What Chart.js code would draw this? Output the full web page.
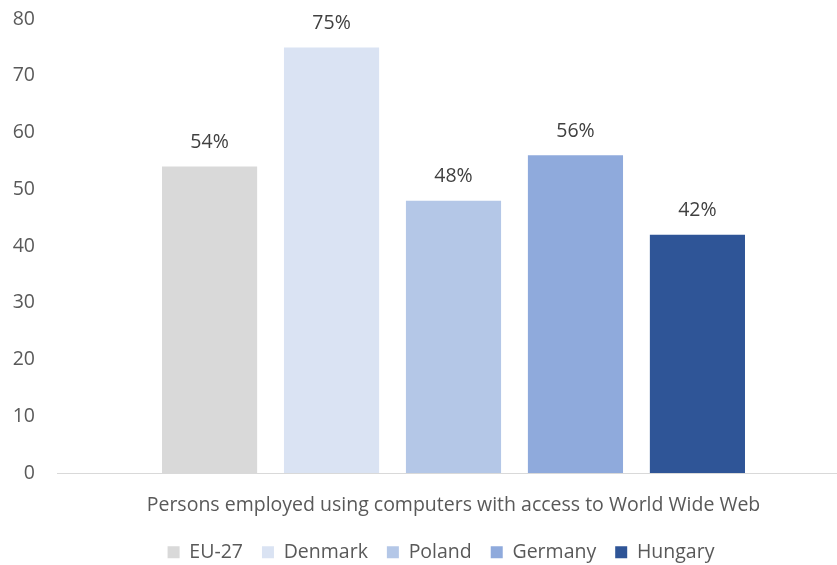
<!DOCTYPE html>
<html>
<head>
<meta charset="utf-8">
<script src="https://cdn.jsdelivr.net/npm/chart.js@4/dist/chart.umd.min.js"></script>
<style>
  html, body { margin: 0; padding: 0; background: #fff; overflow: hidden; }
  #wrap { width: 850px; height: 565px; overflow: hidden; }
</style>
</head>
<body>
<div id="wrap"><canvas id="chart" width="850" height="578"></canvas></div>
<script>
// Share of persons employed using computers with World Wide Web access (%)
const categories = ['Persons employed using computers with access to World Wide Web'];
const countries = ['EU-27', 'Denmark', 'Poland', 'Germany', 'Hungary'];
const shares = [54, 75, 48, 56, 42];
const colors = ['#D9D9D9', '#DAE3F3', '#B4C7E7', '#8FAADC', '#2F5597'];
const yTicks = [0, 10, 20, 30, 40, 50, 60, 70, 80];

const FONT = '"Open Sans", Lato, sans-serif';
const SIZE = 19.5;
const TEXT = '#595959';

// Percentage labels above each bar
const valueLabels = {
  id: 'valueLabels',
  afterDatasetsDraw(chart) {
    const ctx = chart.ctx;
    ctx.save();
    ctx.font = SIZE + 'px ' + FONT;
    ctx.fillStyle = '#404040';
    ctx.textAlign = 'center';
    ctx.textBaseline = 'middle';
    chart.data.datasets.forEach((ds, i) => {
      const meta = chart.getDatasetMeta(i);
      meta.data.forEach((bar, j) => {
        ctx.fillText(ds.data[j] + '%', bar.x, bar.y - 24);
      });
    });
    ctx.restore();
  }
};

// Nudge the legend row slightly right of the canvas centre
const legendShift = {
  id: 'legendShift',
  afterLayout(chart) {
    if (chart.legend) {
      chart.legend.left += 16;
      chart.legend.right += 16;
    }
  }
};

new Chart(document.getElementById('chart'), {
  type: 'bar',
  data: {
    labels: categories,
    datasets: countries.map((name, i) => ({
      label: name,
      data: [shares[i]],
      backgroundColor: colors[i],
      borderWidth: 0,
      categoryPercentage: 0.769,
      barPercentage: 0.78
    }))
  },
  options: {
    responsive: false,
    animation: false,
    layout: { padding: { left: 0, right: 0, top: 19, bottom: 6 } },
    plugins: {
      legend: {
        position: 'bottom',
        labels: {
          font: { family: FONT, size: SIZE },
          color: TEXT,
          boxWidth: 12,
          boxHeight: 12,
          padding: 19
        }
      },
      tooltip: { enabled: false }
    },
    scales: {
      x: {
        grid: { display: false },
        border: { display: true, color: '#D9D9D9', width: 1 },
        ticks: { font: { family: FONT, size: SIZE }, color: TEXT, padding: 13 },
        afterFit(scale) { scale.height = scale.height - 7; }
      },
      y: {
        min: 0,
        max: 80,
        grid: { display: false },
        border: { display: false },
        afterFit(scale) {
          scale.width = 57;
          scale.paddingTop = 0;
          scale.paddingBottom = 0;
        },
        ticks: {
          stepSize: 10,
          font: { family: FONT, size: SIZE },
          color: TEXT,
          padding: 14,
          callback: (v) => (yTicks.includes(v) ? String(v) : '')
        }
      }
    }
  },
  plugins: [valueLabels, legendShift]
});
</script>
</body>
</html>
